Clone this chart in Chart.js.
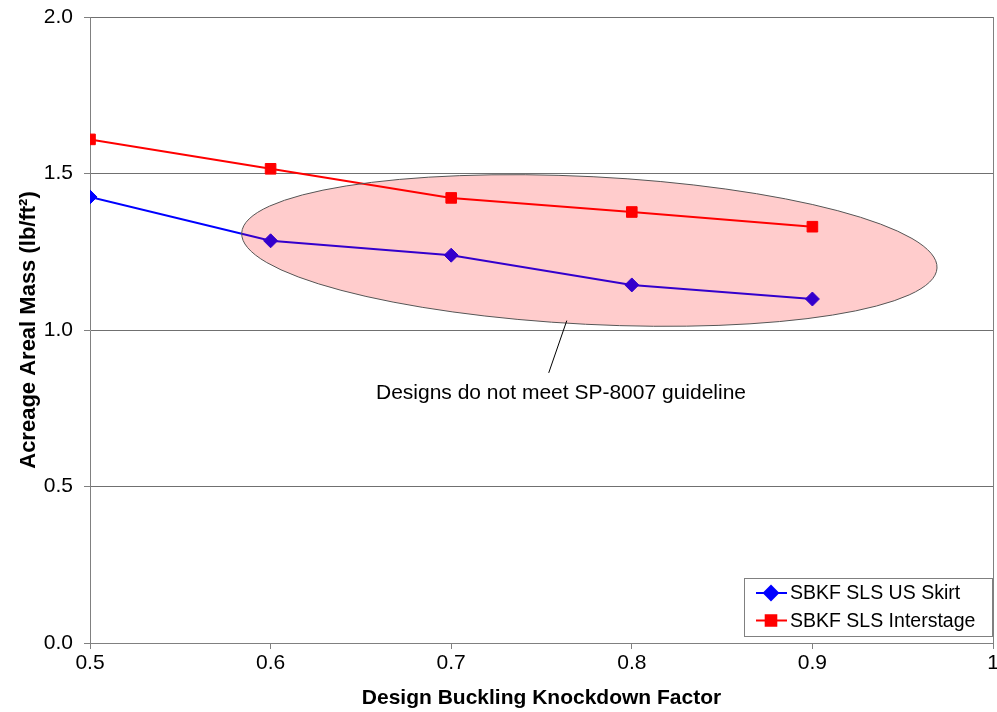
<!DOCTYPE html>
<html>
<head>
<meta charset="utf-8">
<script src="https://cdn.jsdelivr.net/npm/chart.js@4"></script>
<style>
  html, body { margin: 0; padding: 0; background: #ffffff; }
  #wrap { width: 997px; height: 712px; }
</style>
</head>
<body>
<div id="wrap"><canvas id="c" width="997" height="712"></canvas></div>
<script>
// ---- data ----
const knockdownFactors = [0.5, 0.6, 0.7, 0.8, 0.9];
const usSkirtMass      = [1.425, 1.285, 1.239, 1.144, 1.099];
const interstageMass   = [1.609, 1.515, 1.422, 1.377, 1.330];
const seriesLabels     = ['SBKF SLS US Skirt', 'SBKF SLS Interstage'];
const xTickValues      = [0.5, 0.6, 0.7, 0.8, 0.9, 1.0];
const yTickValues      = [0.0, 0.5, 1.0, 1.5, 2.0];
const annotationText   = 'Designs do not meet SP-8007 guideline';
// ellipse region in data units: two tips and minor half-height
const ellipseTipLeft   = [0.584, 1.310];
const ellipseTipRight  = [0.969, 1.198];
const ellipseHalfMinor = 0.236;
// annotation pointer in data units
const pointerFrom = [0.7640, 1.030];
const pointerTo   = [0.7540, 0.863];
const annotationPos = [0.7608, 0.799];

const FONT = '"Liberation Sans", Arial, sans-serif';
const PLOT_RIGHT_MARGIN = 4;

const toPts = (xs, ys) => xs.map((x, i) => ({ x: x, y: ys[i] }));

const overlayPlugin = {
  id: 'overlay',
  afterLayout(chart) {
    // keep the plot area's right edge fixed regardless of the last tick label width
    const target = chart.width - PLOT_RIGHT_MARGIN;
    const area = chart.chartArea, xs = chart.scales.x;
    if (Math.abs(area.right - target) > 0.01) {
      area.right = target;
      area.width = area.right - area.left;
      xs.right = target;
      xs.width = xs.right - xs.left;
      xs.configure();
    }
  },
  afterDatasetsDraw(chart) {
    const ctx = chart.ctx, xs = chart.scales.x, ys = chart.scales.y;
    const lx = xs.getPixelForValue(ellipseTipLeft[0]), ly = ys.getPixelForValue(ellipseTipLeft[1]);
    const rx = xs.getPixelForValue(ellipseTipRight[0]), ry = ys.getPixelForValue(ellipseTipRight[1]);
    const cx = (lx + rx) / 2, cy = (ly + ry) / 2;
    const a = Math.hypot(rx - lx, ry - ly) / 2;
    const b = Math.abs(ys.getPixelForValue(0) - ys.getPixelForValue(ellipseHalfMinor));
    const rot = Math.atan2(ry - ly, rx - lx);
    ctx.save();
    ctx.beginPath();
    ctx.ellipse(cx, cy, a, b, rot, 0, Math.PI * 2);
    ctx.fillStyle = 'rgba(255,0,0,0.2)';
    ctx.fill();
    ctx.lineWidth = 1;
    ctx.strokeStyle = '#555555';
    ctx.stroke();
    // pointer line
    ctx.beginPath();
    ctx.moveTo(xs.getPixelForValue(pointerFrom[0]), ys.getPixelForValue(pointerFrom[1]));
    ctx.lineTo(xs.getPixelForValue(pointerTo[0]), ys.getPixelForValue(pointerTo[1]));
    ctx.strokeStyle = '#000000';
    ctx.lineWidth = 1;
    ctx.stroke();
    // annotation text
    ctx.fillStyle = '#000000';
    ctx.font = '21px ' + FONT;
    ctx.textAlign = 'center';
    ctx.textBaseline = 'middle';
    ctx.fillText(annotationText, xs.getPixelForValue(annotationPos[0]), ys.getPixelForValue(annotationPos[1]));
    ctx.restore();
  },
  afterDraw(chart) {
    // legend box inside plot area (bottom-right)
    const ctx = chart.ctx, area = chart.chartArea;
    const boxW = 248, boxH = 58;
    const bx = area.right - 249, by = area.bottom - 65;
    ctx.save();
    ctx.fillStyle = '#ffffff';
    ctx.fillRect(bx, by, boxW, boxH);
    ctx.strokeStyle = '#808080';
    ctx.lineWidth = 1;
    ctx.strokeRect(bx + 0.5, by + 0.5, boxW, boxH);
    ctx.font = '19.5px ' + FONT;
    ctx.textBaseline = 'middle';
    ctx.textAlign = 'left';
    chart.data.datasets.forEach((ds, i) => {
      const yy = by + 15 + i * 27.5;
      ctx.beginPath();
      ctx.moveTo(bx + 12, yy);
      ctx.lineTo(bx + 43, yy);
      ctx.strokeStyle = ds.borderColor;
      ctx.lineWidth = 2;
      ctx.stroke();
      Chart.helpers.drawPoint(ctx, {
        pointStyle: ds.pointStyle, radius: ds.pointRadius, rotation: 0, borderWidth: 1
      }, bx + 27, yy);
      ctx.fillStyle = ds.backgroundColor;
      ctx.strokeStyle = ds.borderColor;
      ctx.fill();
      ctx.fillStyle = '#000000';
      ctx.fillText(ds.label, bx + 46, yy + 1);
    });
    ctx.restore();
  }
};

new Chart(document.getElementById('c'), {
  type: 'line',
  data: {
    datasets: [
      {
        label: seriesLabels[0],
        data: toPts(knockdownFactors, usSkirtMass),
        borderColor: '#0000ff',
        backgroundColor: '#0000ff',
        borderWidth: 2,
        pointStyle: 'rectRot',
        pointRadius: 7,
        pointHoverRadius: 7,
        pointBorderWidth: 1,
        tension: 0
      },
      {
        label: seriesLabels[1],
        data: toPts(knockdownFactors, interstageMass),
        borderColor: '#ff0000',
        backgroundColor: '#ff0000',
        borderWidth: 2,
        pointStyle: 'rect',
        pointRadius: 7.5,
        pointHoverRadius: 7.5,
        pointBorderWidth: 1,
        tension: 0
      }
    ]
  },
  options: {
    responsive: false,
    animation: false,
    devicePixelRatio: 1,
    layout: { padding: { top: 17, right: PLOT_RIGHT_MARGIN, left: 0, bottom: 0 } },
    plugins: {
      legend: { display: false },
      tooltip: { enabled: false }
    },
    scales: {
      x: {
        type: 'linear',
        min: 0.5, max: 1.0,
        afterFit(s) { s.height = 69; s.paddingLeft = 0; s.paddingRight = 0; },
        afterBuildTicks(s) { s.ticks = xTickValues.map(v => ({ value: v })); },
        ticks: {
          color: '#000000',
          font: { family: FONT, size: 21 },
          padding: 2,
          maxRotation: 0,
          callback: v => (Math.abs(v - 1) < 1e-9 ? '1' : v.toFixed(1))
        },
        grid: {
          color: c => (c.tick && Math.abs(c.tick.value - 1) < 1e-9 ? '#808080' : 'rgba(0,0,0,0)'),
          tickColor: '#808080',
          tickLength: 6,
          drawTicks: true
        },
        border: { display: true, color: '#808080', width: 1 },
        title: {
          display: true,
          text: 'Design Buckling Knockdown Factor',
          color: '#000000',
          font: { family: FONT, size: 21, weight: 'bold' },
          padding: { top: 0, bottom: 1 }
        }
      },
      y: {
        type: 'linear',
        min: 0, max: 2.0,
        afterFit(s) { s.width = 90; s.paddingTop = 0; s.paddingBottom = 0; },
        afterBuildTicks(s) { s.ticks = yTickValues.map(v => ({ value: v })); },
        ticks: {
          color: '#000000',
          font: { family: FONT, size: 21 },
          padding: 11,
          callback: v => v.toFixed(1)
        },
        grid: {
          color: '#707070',
          tickColor: '#808080',
          tickLength: 6,
          drawTicks: true
        },
        border: { display: true, color: '#808080', width: 1 },
        title: {
          display: true,
          text: 'Acreage Areal Mass (lb/ft²)',
          color: '#000000',
          font: { family: FONT, size: 22, weight: 'bold' },
          padding: { top: 16, bottom: 0 }
        }
      }
    }
  },
  plugins: [overlayPlugin]
});
</script>
</body>
</html>
